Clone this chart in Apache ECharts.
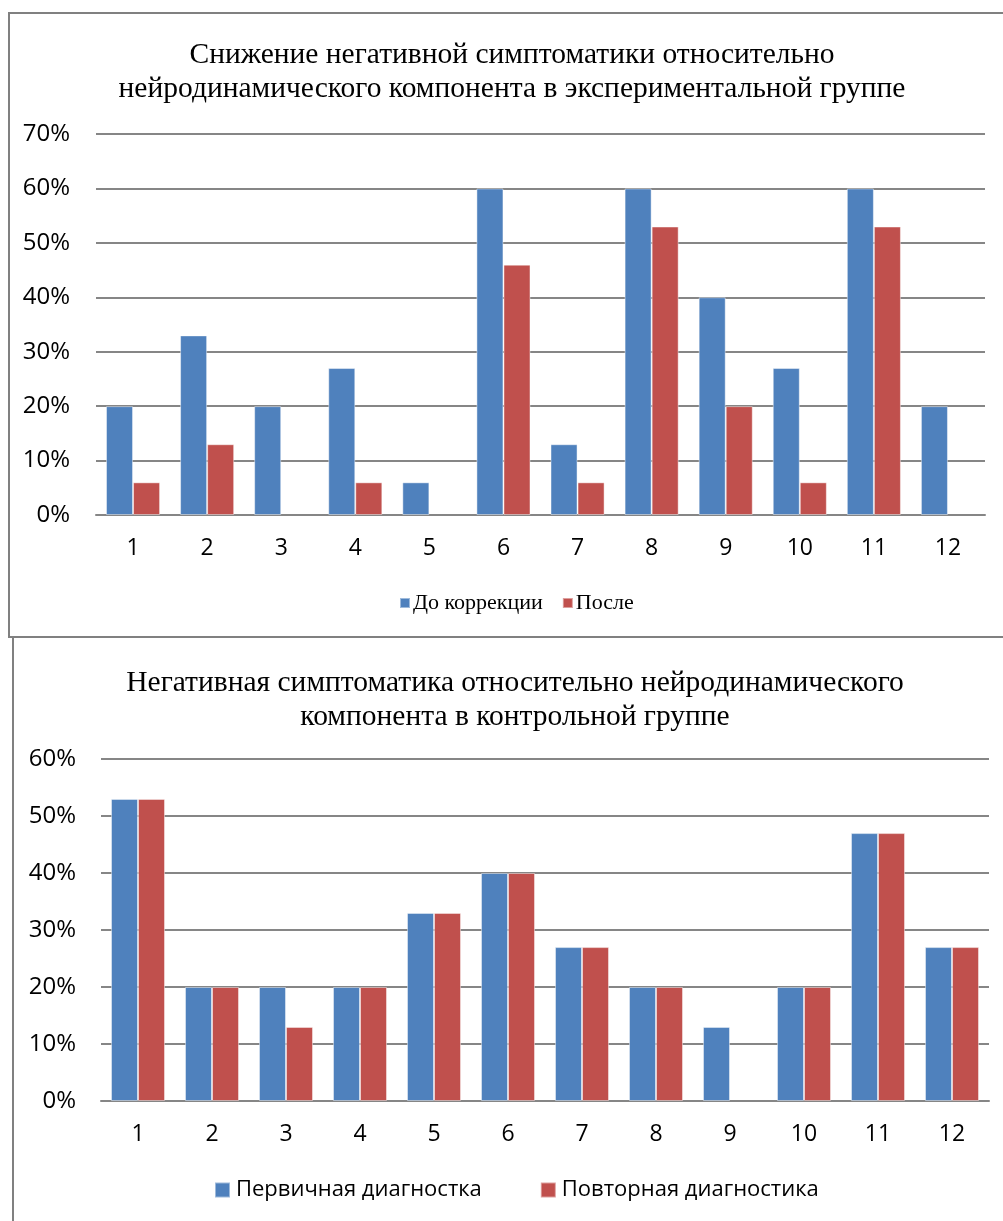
<!DOCTYPE html>
<html>
<head>
<meta charset="utf-8">
<script src="https://cdn.jsdelivr.net/npm/echarts@6/dist/echarts.min.js"></script>
<style>
html,body{margin:0;padding:0;background:#fff;}
#c{width:1003px;height:1221px;}
</style>
</head>
<body>
<div id="c"></div>
<script>
// ---- Data ----
const categories = ['1','2','3','4','5','6','7','8','9','10','11','12'];

const title1 = 'Снижение негативной симптоматики относительно\nнейродинамического компонента в экспериментальной группе';
const series1Names = ['До коррекции', 'После'];
const before1 = [20, 33, 20, 27, 6, 60, 13, 60, 40, 27, 60, 20];
const after1  = [6, 13, 0, 6, 0, 46, 6, 53, 20, 6, 53, 0];

const title2 = 'Негативная симптоматика относительно нейродинамического\nкомпонента в контрольной группе';
const series2Names = ['Первичная диагностка', 'Повторная диагностика'];
const primary2 = [53, 20, 20, 20, 33, 40, 27, 20, 13, 20, 47, 27];
const repeat2  = [53, 20, 13, 20, 33, 40, 27, 20, 0, 20, 47, 27];

const yMax1 = 70, yMax2 = 60, yStep = 10;

// ---- Styles ----
const BLUE = '#4F81BD', RED = '#C0504D', GRID = '#868686';
const SERIF = '"Liberation Serif","Times New Roman",serif';
const SANS = '"Open Sans","Noto Sans",sans-serif';

const chart = echarts.init(document.getElementById('c'), null, {renderer: 'canvas'});

function yAxis(gridIndex, max, margin) {
  return {
    type: 'value', gridIndex, min: 0, max, interval: yStep,
    axisLine: {show: false}, axisTick: {show: false},
    splitLine: {lineStyle: {color: GRID, width: 2}},
    axisLabel: {formatter: v => v + '%', color: '#000', fontFamily: SANS, fontSize: 24, margin}
  };
}
function xAxis(gridIndex) {
  return {
    type: 'category', gridIndex, data: categories,
    axisLine: {lineStyle: {color: GRID, width: 2}}, axisTick: {show: false},
    axisLabel: {color: '#000', fontFamily: SANS, fontSize: 23, margin: 22}
  };
}
function bar(name, data, color, idx) {
  return {
    name, type: 'bar', data: data.map(v => v === 0 ? '-' : v), xAxisIndex: idx, yAxisIndex: idx,
    barGap: '0%', barCategoryGap: '27%',
    itemStyle: {color, borderColor: 'rgba(255,255,255,0.45)', borderWidth: 1},
    emphasis: {disabled: true}
  };
}

chart.setOption({
  animation: false,
  backgroundColor: '#fff',
  title: [
    {text: title1, left: 507, textAlign: 'center', top: 33,
     textStyle: {fontFamily: SERIF, fontWeight: 'normal', fontSize: 29.5, lineHeight: 34, color: '#000'}},
    {text: title2, left: 510, textAlign: 'center', top: 661,
     textStyle: {fontFamily: SERIF, fontWeight: 'normal', fontSize: 29.5, lineHeight: 34, color: '#000'}}
  ],
  legend: [
    {data: series1Names, top: 587, left: 394, itemWidth: 10, itemHeight: 10, itemGap: 19,
     icon: 'rect', textStyle: {fontFamily: SERIF, fontSize: 22, color: '#000', padding: [0,0,0,-2]}},
    {data: series2Names, top: 1174, left: 209, itemWidth: 15, itemHeight: 15, itemGap: 58,
     icon: 'rect', textStyle: {fontFamily: SANS, fontSize: 22, color: '#000', padding: [0,0,0,1]}}
  ],
  grid: [
    {left: 96, right: 18, top: 134, height: 381},
    {left: 101, right: 14, top: 759, height: 342}
  ],
  xAxis: [xAxis(0), xAxis(1)],
  yAxis: [yAxis(0, yMax1, 26), yAxis(1, yMax2, 25)],
  series: [
    bar(series1Names[0], before1, BLUE, 0),
    bar(series1Names[1], after1, RED, 0),
    bar(series2Names[0], primary2, BLUE, 1),
    bar(series2Names[1], repeat2, RED, 1)
  ],
  graphic: [
    {type: 'rect', shape: {x: 9, y: 13, width: 1010, height: 624}, style: {fill: 'none', stroke: '#808080', lineWidth: 2}, silent: true},
    {type: 'rect', shape: {x: 13, y: 637, width: 1010, height: 600}, style: {fill: 'none', stroke: '#808080', lineWidth: 2}, silent: true}
  ]
});
</script>
</body>
</html>
